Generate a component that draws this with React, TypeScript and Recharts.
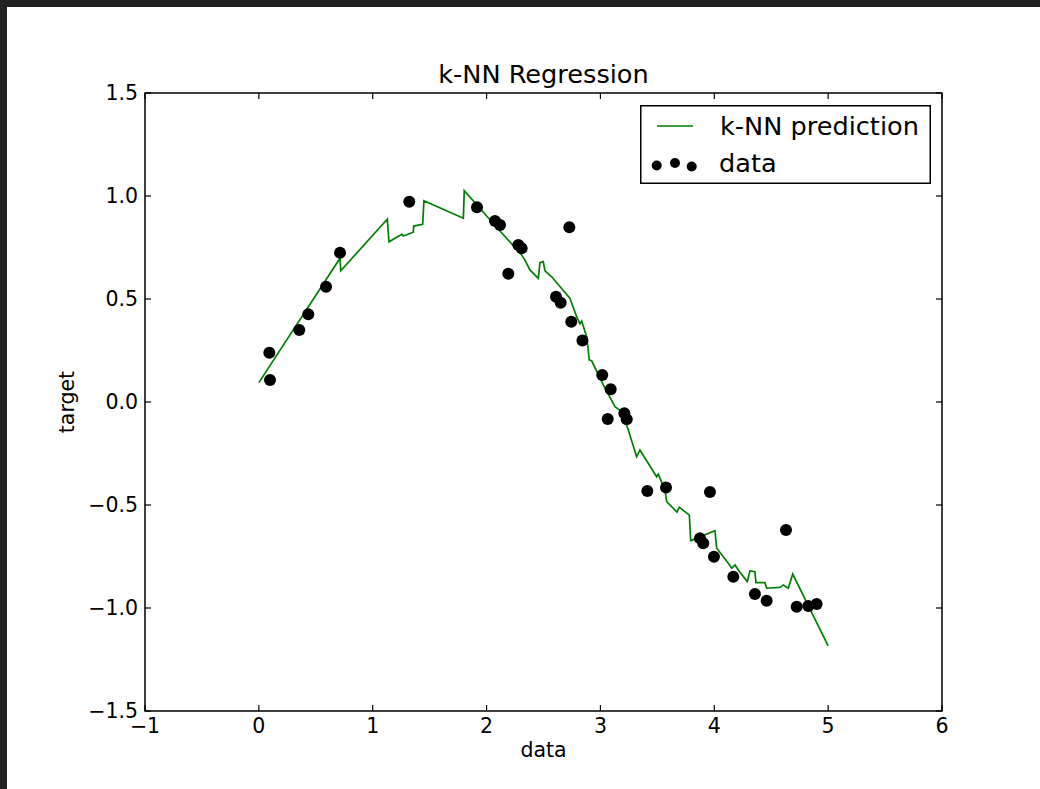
import React from 'react';
import { ComposedChart, Line, Scatter, XAxis, YAxis, ReferenceArea } from 'recharts';

// Figure and axes geometry (pixels)
const FIG_W = 1040;
const FIG_H = 789;
const AX_LEFT = 145;
const AX_TOP = 93;
const AX_RIGHT = 942;
const AX_BOTTOM = 711;
const PLOT_W = AX_RIGHT - AX_LEFT;
const PLOT_H = AX_BOTTOM - AX_TOP;
const TICK_LEN = 6;
const FONT = "'DejaVu Sans', sans-serif";
const LARGE = 25.6;
const MEDIUM = 20.5;

// Series names / colours
const LINE_NAME = 'k-NN prediction';
const SCATTER_NAME = 'data';
const LINE_COLOR = '#008000';

// Axis ticks
const xTicks = [-1, 0, 1, 2, 3, 4, 5, 6];
const xTickLabels = ['−1', '0', '1', '2', '3', '4', '5', '6'];
const yTicks = [-1.5, -1, -0.5, 0, 0.5, 1, 1.5];
const yTickLabels = ['−1.5', '−1.0', '−0.5', '0.0', '0.5', '1.0', '1.5'];

// Training samples
const sampleX = [
  0.092, 0.098, 0.355, 0.434, 0.59, 0.713, 1.321, 1.916, 2.074, 2.118, 2.279, 2.308,
  2.191, 2.727, 2.61, 2.651, 2.744, 2.842, 3.016, 3.09, 3.064, 3.21, 3.231, 3.412,
  3.576, 3.962, 3.874, 3.903, 3.997, 4.167, 4.357, 4.46, 4.63, 4.724, 4.826, 4.899,
];
const sampleY = [
  0.239, 0.107, 0.35, 0.426, 0.56, 0.725, 0.972, 0.945, 0.879, 0.859, 0.762, 0.746,
  0.623, 0.848, 0.511, 0.482, 0.39, 0.298, 0.131, 0.062, -0.083, -0.055, -0.084, -0.432,
  -0.415, -0.437, -0.662, -0.686, -0.751, -0.848, -0.932, -0.965, -0.621, -0.994, -0.99, -0.981,
];

// k-NN prediction curve
const predX = [
  0.0, 0.713, 0.719, 1.128, 1.143, 1.255, 1.269, 1.356, 1.36, 1.439, 1.45, 1.796, 1.804,
  2.118, 2.308, 2.337, 2.381, 2.454, 2.469, 2.498, 2.513, 2.572, 2.733, 2.791, 2.82, 2.835,
  2.879, 2.902, 2.923, 3.025, 3.128, 3.187, 3.245, 3.318, 3.347, 3.494, 3.508, 3.567, 3.582,
  3.672, 3.693, 3.781, 3.793, 4.006, 4.021, 4.123, 4.153, 4.182, 4.217, 4.29, 4.313, 4.357,
  4.366, 4.445, 4.46, 4.577, 4.606, 4.65, 4.689, 5.0,
];
const predY = [
  0.094, 0.698, 0.637, 0.887, 0.778, 0.814, 0.806, 0.824, 0.854, 0.863, 0.977, 0.892, 1.026,
  0.83, 0.714, 0.689, 0.641, 0.6, 0.676, 0.681, 0.637, 0.608, 0.503, 0.414, 0.379, 0.393,
  0.317, 0.204, 0.2, 0.083, -0.023, -0.047, -0.136, -0.266, -0.233, -0.363, -0.35, -0.427, -0.484,
  -0.534, -0.511, -0.549, -0.673, -0.625, -0.71, -0.783, -0.807, -0.791, -0.82, -0.872, -0.82, -0.824,
  -0.877, -0.877, -0.904, -0.9, -0.888, -0.904, -0.835, -1.184,
];

const samples = sampleX.map((x, i) => ({ x, y: sampleY[i] }));
const prediction = predX.map((x, i) => ({ x, y: predY[i] }));

const YTick = (props: any) => {
  const { x, y, index } = props;
  return (
    <g>
      <line x1={x} x2={x + TICK_LEN} y1={y} y2={y} stroke="#000" strokeWidth={1.2} />
      <line x1={x + PLOT_W} x2={x + PLOT_W - TICK_LEN} y1={y} y2={y} stroke="#000" strokeWidth={1.2} />
      <text x={x - 7} y={y} dy="0.36em" textAnchor="end" fontFamily={FONT} fontSize={MEDIUM} fill="#000">
        {yTickLabels[index]}
      </text>
    </g>
  );
};

const XTick = (props: any) => {
  const { x, y, index } = props;
  return (
    <g>
      <line x1={x} x2={x} y1={y} y2={y - TICK_LEN} stroke="#000" strokeWidth={1.2} />
      <line x1={x} x2={x} y1={y - PLOT_H} y2={y - PLOT_H + TICK_LEN} stroke="#000" strokeWidth={1.2} />
      <text x={x} y={y + 22} textAnchor="middle" fontFamily={FONT} fontSize={MEDIUM} fill="#000">
        {xTickLabels[index]}
      </text>
    </g>
  );
};

// Legend box in the upper right of the axes
const LegendBox = () => {
  const lx = 640;
  const ly = 105;
  return (
    <g transform={`translate(${lx}, ${ly})`}>
      <rect x={0.75} y={0.75} width={289.5} height={77.5} fill="#fff" stroke="#000" strokeWidth={1.5} />
      <line x1={17} x2={53} y1={21} y2={21} stroke={LINE_COLOR} strokeWidth={1.7} />
      <text x={80} y={21} dy="0.36em" fontFamily={FONT} fontSize={LARGE} fill="#000">
        {LINE_NAME}
      </text>
      <g fill="#000">
        <circle cx={16.7} cy={60.5} r={5} />
        <circle cx={35} cy={58} r={5} />
        <circle cx={51.7} cy={61.5} r={5} />
      </g>
      <text x={79} y={58} dy="0.36em" fontFamily={FONT} fontSize={LARGE} fill="#000">
        {SCATTER_NAME}
      </text>
    </g>
  );
};

export default function App() {
  return (
    <div style={{ position: 'fixed', left: 0, top: 0, width: FIG_W, height: FIG_H, background: '#222' }}>
      <div style={{ position: 'absolute', left: 7, top: 7, right: 0, bottom: 0, background: '#fff' }} />
      <div style={{ position: 'absolute', left: 0, top: 0 }}>
        <ComposedChart
          width={FIG_W}
          height={FIG_H}
          margin={{ top: AX_TOP, right: FIG_W - AX_RIGHT, left: 0, bottom: 0 }}
        >
          <XAxis
            type="number"
            dataKey="x"
            domain={[-1, 6]}
            ticks={xTicks}
            interval={0}
            allowDataOverflow
            height={FIG_H - AX_BOTTOM}
            axisLine={false}
            tickLine={false}
            tickSize={0}
            tickMargin={0}
            tick={<XTick />}
          />
          <YAxis
            type="number"
            dataKey="y"
            domain={[-1.5, 1.5]}
            ticks={yTicks}
            interval={0}
            allowDataOverflow
            width={AX_LEFT}
            axisLine={false}
            tickLine={false}
            tickSize={0}
            tickMargin={0}
            tick={<YTick />}
          />
          <Scatter
            name={SCATTER_NAME}
            data={samples}
            fill="#000"
            isAnimationActive={false}
            shape={(p: any) => <circle cx={p.cx} cy={p.cy} r={6} fill="#000" />}
          />
          <Line
            name={LINE_NAME}
            data={prediction}
            dataKey="y"
            type="linear"
            stroke={LINE_COLOR}
            strokeWidth={1.7}
            dot={false}
            activeDot={false}
            isAnimationActive={false}
          />
          <ReferenceArea
            x1={-1}
            x2={6}
            y1={-1.5}
            y2={1.5}
            fill="none"
            fillOpacity={0}
            stroke="#000"
            strokeWidth={1.5}
            ifOverflow="visible"
          />
          <LegendBox />
          <text x={(AX_LEFT + AX_RIGHT) / 2} y={83} textAnchor="middle" fontFamily={FONT} fontSize={LARGE} fill="#000">
            k-NN Regression
          </text>
          <text x={(AX_LEFT + AX_RIGHT) / 2} y={757} textAnchor="middle" fontFamily={FONT} fontSize={MEDIUM} fill="#000">
            data
          </text>
          <text
            x={0}
            y={0}
            transform={`translate(74, ${(AX_TOP + AX_BOTTOM) / 2}) rotate(-90)`}
            textAnchor="middle"
            fontFamily={FONT}
            fontSize={MEDIUM}
            fill="#000"
          >
            target
          </text>
        </ComposedChart>
      </div>
    </div>
  );
}
